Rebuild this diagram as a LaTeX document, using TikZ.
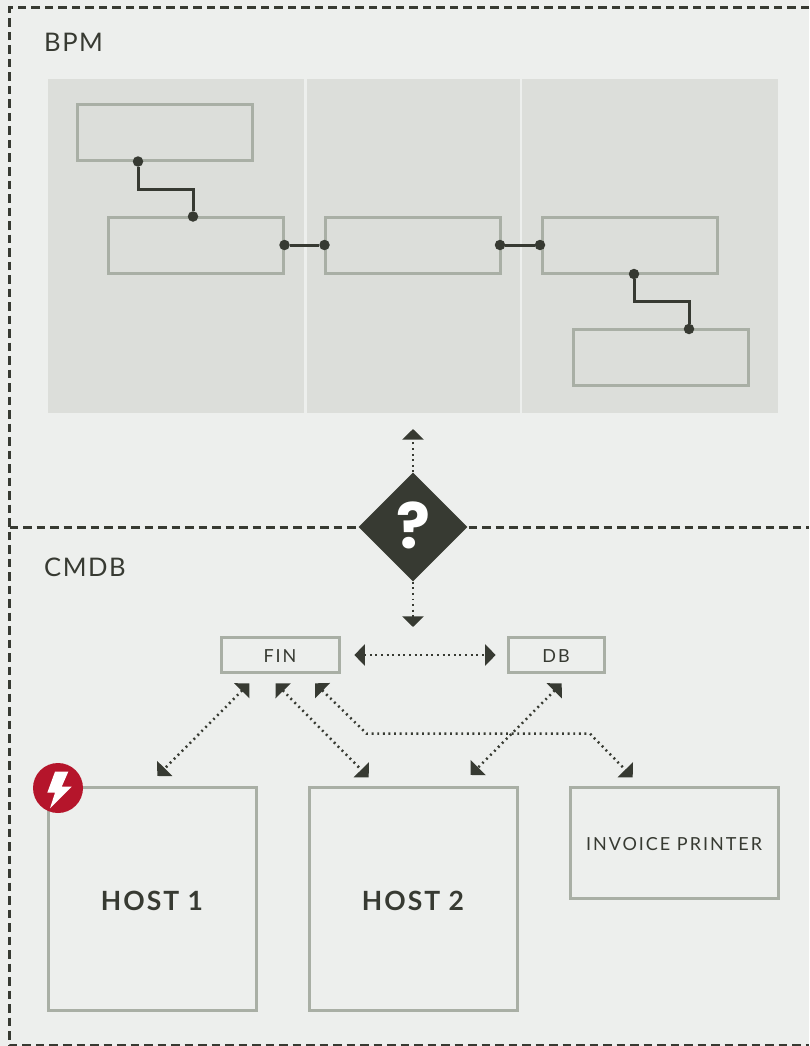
\documentclass[tikz,border=0pt]{standalone}
\usepackage{fontspec}
\setmainfont{Lato}
\newfontfamily\titlefont[LetterSpace=6]{Lato}
\newfontfamily\boxfont[LetterSpace=11]{Lato}
\newfontfamily\hostfont[LetterSpace=7.5]{Lato Bold}
\newfontfamily\markfont{Poppins Bold}
\usetikzlibrary{calc,arrows.meta,shapes.geometric}
\definecolor{page_bg}{HTML}{EDEFED}
\definecolor{lane_bg}{HTML}{DCDEDA}
\definecolor{box_line}{HTML}{A9AFA5}
\definecolor{dark}{HTML}{373A32}
\definecolor{alert}{HTML}{B5152B}
\tikzset{
    area_title/.style={anchor=base west, inner sep=0pt, text=dark, font=\titlefont\fontsize{25.6}{26}\selectfont},
    lane/.style={fill=lane_bg, draw=none, inner sep=0pt, minimum height=334pt},
    task_box/.style={draw=box_line, line width=3pt, inner sep=0pt, minimum width=175pt, minimum height=56pt},
    item_box/.style={draw=box_line, line width=3pt, inner sep=0pt, text=dark, text height=15.5pt, text depth=0pt, font=\boxfont\fontsize{18}{20}\selectfont},
    host_box/.style={item_box, minimum width=208pt, minimum height=223pt, text height=24pt, font=\hostfont\fontsize{26.5}{30}\selectfont},
    joint/.style={circle, fill=dark, inner sep=0pt, minimum size=10.5pt},
    flow/.style={draw=dark, line width=3pt},
    border/.style={draw=dark, line width=3pt, dash pattern=on 8.5pt off 5pt},
    link/.style={draw=dark, line width=2.5pt, dash pattern=on 1.9pt off 3.7pt, {Triangle[length=10.6pt,width=21pt]}-{Triangle[length=10.6pt,width=21pt]}},
    link_out/.style={draw=dark, line width=2.5pt, dash pattern=on 1.9pt off 3.7pt, -{Triangle[length=10.6pt,width=21pt]}}
}
\begin{document}
\begin{tikzpicture}[x=1pt, y=-1pt]
    \useasboundingbox (0,0) rectangle (809,1046);
    \fill[page_bg] (0,0) rectangle (809,1046);

    \draw[border] (809,8) -- (9.5,8) -- (9.5,1045) -- (809,1045);

    \node [area_title] (bpm_title) at (44,52) {BPM};
    \node [area_title] (cmdb_title) at (44,576) {CMDB};

    \node [lane, minimum width=256pt] (lane_left) at (176,246) {};
    \node [lane, minimum width=213pt] (lane_middle) at (413,246) {};
    \node [lane, minimum width=256pt] (lane_right) at (650,246) {};

    \node [task_box] (task_a) at (165,132.5) {};
    \node [task_box] (task_b) at (195.5,245) {};
    \node [task_box] (task_c) at (412.5,245) {};
    \node [task_box] (task_d) at (629.5,245) {};
    \node [task_box] (task_e) at (660.5,357.5) {};

    \node [joint] (joint_a) at (138,161.5) {};
    \node [joint] (joint_b) at (193,216.5) {};
    \node [joint] (joint_c) at (284.5,245) {};
    \node [joint] (joint_d) at (324.5,245) {};
    \node [joint] (joint_e) at (500,245) {};
    \node [joint] (joint_f) at (540,245) {};
    \node [joint] (joint_g) at (634,274) {};
    \node [joint] (joint_h) at (689,329) {};

    \draw[flow] (joint_a) |- ($(joint_a)!0.5!(joint_b)$) -| (joint_b);
    \draw[flow] (joint_c) -- (joint_d);
    \draw[flow] (joint_e) -- (joint_f);
    \draw[flow] (joint_g) |- ($(joint_g)!0.5!(joint_h)$) -| (joint_h);

    \draw[border] (9.5,527) -- (809,527);
    \node [diamond, fill=dark, inner sep=0pt, minimum width=109pt, minimum height=109pt, text=white, text depth=4pt, font=\markfont\fontsize{63}{63}\selectfont] (question) at (413,527) {?};

    \node [item_box, minimum width=118pt, minimum height=35pt] (fin) at (280,654.5) {FIN};
    \node [item_box, minimum width=96pt, minimum height=35pt] (db) at (556,654.5) {DB};
    \node [host_box] (host_one) at (152,898.5) {HOST 1};
    \node [host_box] (host_two) at (413,898.5) {HOST 2};
    \node [item_box, minimum width=208pt, minimum height=111pt] (printer) at (674,842.5) {INVOICE PRINTER};

    \node [circle, fill=alert, inner sep=0pt, minimum size=50pt] (alert_badge) at (58,788) {};
    \fill[white] (55,771.7) -- (68.3,771.7) -- (61.7,786.7) -- (71.7,786.7) -- (50,808.3) -- (55,792.7) -- (47.3,792.7) -- cycle;

    \coordinate (bpm_tip) at (413,429);
    \coordinate (cmdb_tip) at (413,627);
    \coordinate (fin_host_one) at (249.3,683.3);
    \coordinate (host_one_fin) at (157.3,776);
    \coordinate (fin_host_two) at (275.7,683.3);
    \coordinate (host_two_fin) at (368.7,777.3);
    \coordinate (fin_printer) at (315,683.3);
    \coordinate (bend_left) at (366.7,733.7);
    \coordinate (bend_right) at (590,733.7);
    \coordinate (printer_fin) at (632.7,777.3);
    \coordinate (db_host_two) at (561.7,683.3);
    \coordinate (host_two_db) at (470.7,775);
    \coordinate (fin_db) at (354.3,655);
    \coordinate (db_fin) at (495.7,655);

    \draw[link_out] (question.north) -- (bpm_tip);
    \draw[link_out] (question.south) -- (cmdb_tip);
    \draw[link] (fin_db) -- (db_fin);
    \draw[link] (fin_host_one) -- (host_one_fin);
    \draw[link] (fin_host_two) -- (host_two_fin);
    \draw[link] (fin_printer) -- (bend_left) -- (bend_right) -- (printer_fin);
    \draw[link] (db_host_two) -- (host_two_db);
\end{tikzpicture}
\end{document}
